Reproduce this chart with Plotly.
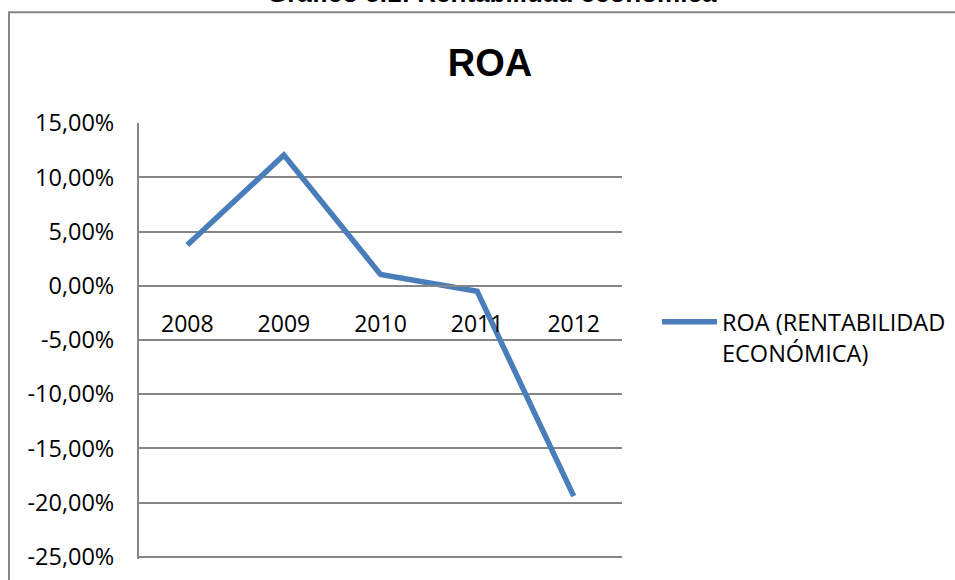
import plotly.graph_objects as go

# ---- data ----
years = ["2008", "2009", "2010", "2011", "2012"]
roa = [0.0375, 0.1205, 0.0105, -0.005, -0.194]
series_name = "ROA (RENTABILIDAD<br>ECONÓMICA)"
y_tickvals = [0.15, 0.10, 0.05, 0.0, -0.05, -0.10, -0.15, -0.20, -0.25]
y_ticktext = ["15,00%", "10,00%", "5,00%", "0,00%", "-5,00%", "-10,00%",
              "-15,00%", "-20,00%", "-25,00%"]
chart_title = "ROA"
caption = "Gráfico 5.1: Rentabilidad económica"

# ---- layout constants ----
W, H = 955, 580
y_min, y_max = min(y_tickvals), max(y_tickvals)
pad_top, pad_bot = 0.0001, 0.002
px_per_unit = 434 / (y_max - y_min)
L, R = 139, 333
T = 123 - pad_top * px_per_unit
B = H - (557 + pad_bot * px_per_unit)
plot_w = W - L - R
plot_h = H - T - B
grey = "#868686"
txt_font = "Open Sans, Lato, sans-serif"

def px_x(px):
    return (px - L) / plot_w

def px_y(py):
    return (H - B - py) / plot_h

fig = go.Figure()
fig.add_trace(go.Scatter(
    x=years, y=roa, mode="lines", name=series_name,
    line=dict(color="#4A7EBB", width=5.5),
    showlegend=True,
))

y_lo, y_hi = y_min - pad_bot, y_max + pad_top
zero_pos = (0 - y_lo) / (y_hi - y_lo)

fig.update_layout(
    template="none",
    width=W, height=H,
    margin=dict(l=L, r=R, t=T, b=B, autoexpand=False),
    paper_bgcolor="white", plot_bgcolor="white",
    font=dict(family=txt_font, size=23, color="black"),
    title=dict(text="<b>" + chart_title + "</b>", xref="container", yref="container",
               x=490 / W, y=1 - 63 / H, xanchor="center", yanchor="middle",
               font=dict(family="Liberation Sans, Arial, sans-serif", size=38, color="black")),
    xaxis=dict(
        type="category", range=[-0.5, len(years) - 0.5],
        showgrid=False, showline=True, linecolor=grey, linewidth=2,
        anchor="free", position=zero_pos, automargin=False,
        ticks="", ticklabelstandoff=18,
        tickfont=dict(family=txt_font, size=23, color="black"),
        zeroline=False,
    ),
    yaxis=dict(
        range=[y_lo, y_hi], automargin=False,
        tickvals=y_tickvals, ticktext=y_ticktext,
        showgrid=True, gridcolor=grey, gridwidth=1.7,
        showline=True, linecolor=grey, linewidth=2,
        zeroline=False, ticks="", ticklabelstandoff=18,
        tickfont=dict(family=txt_font, size=23.5, color="black"),
    ),
    legend=dict(
        xref="container", yref="container",
        x=657 / W, y=1 - 300 / H, xanchor="left", yanchor="top",
        valign="top", itemwidth=55,
        font=dict(family=txt_font, size=23.5, color="black"),
        bgcolor="rgba(0,0,0,0)", borderwidth=0,
    ),
    showlegend=True,
)

# outer chart frame
fig.add_shape(type="rect", xref="paper", yref="paper",
              x0=px_x(9), x1=px_x(1000), y0=px_y(620), y1=px_y(12),
              line=dict(color=grey, width=2), fillcolor="rgba(0,0,0,0)", layer="below")

# cut-off caption above the frame
fig.add_annotation(text="<b>" + caption + "</b>", xref="paper", yref="paper",
                   x=px_x(492), y=px_y(-7.5), xanchor="center", yanchor="middle",
                   showarrow=False,
                   font=dict(family="Liberation Sans, Arial, sans-serif", size=26, color="black"))

fig.write_html("out.html", config={"displayModeBar": False},
               post_script="document.body.style.margin='0';document.body.style.overflow='hidden';")
